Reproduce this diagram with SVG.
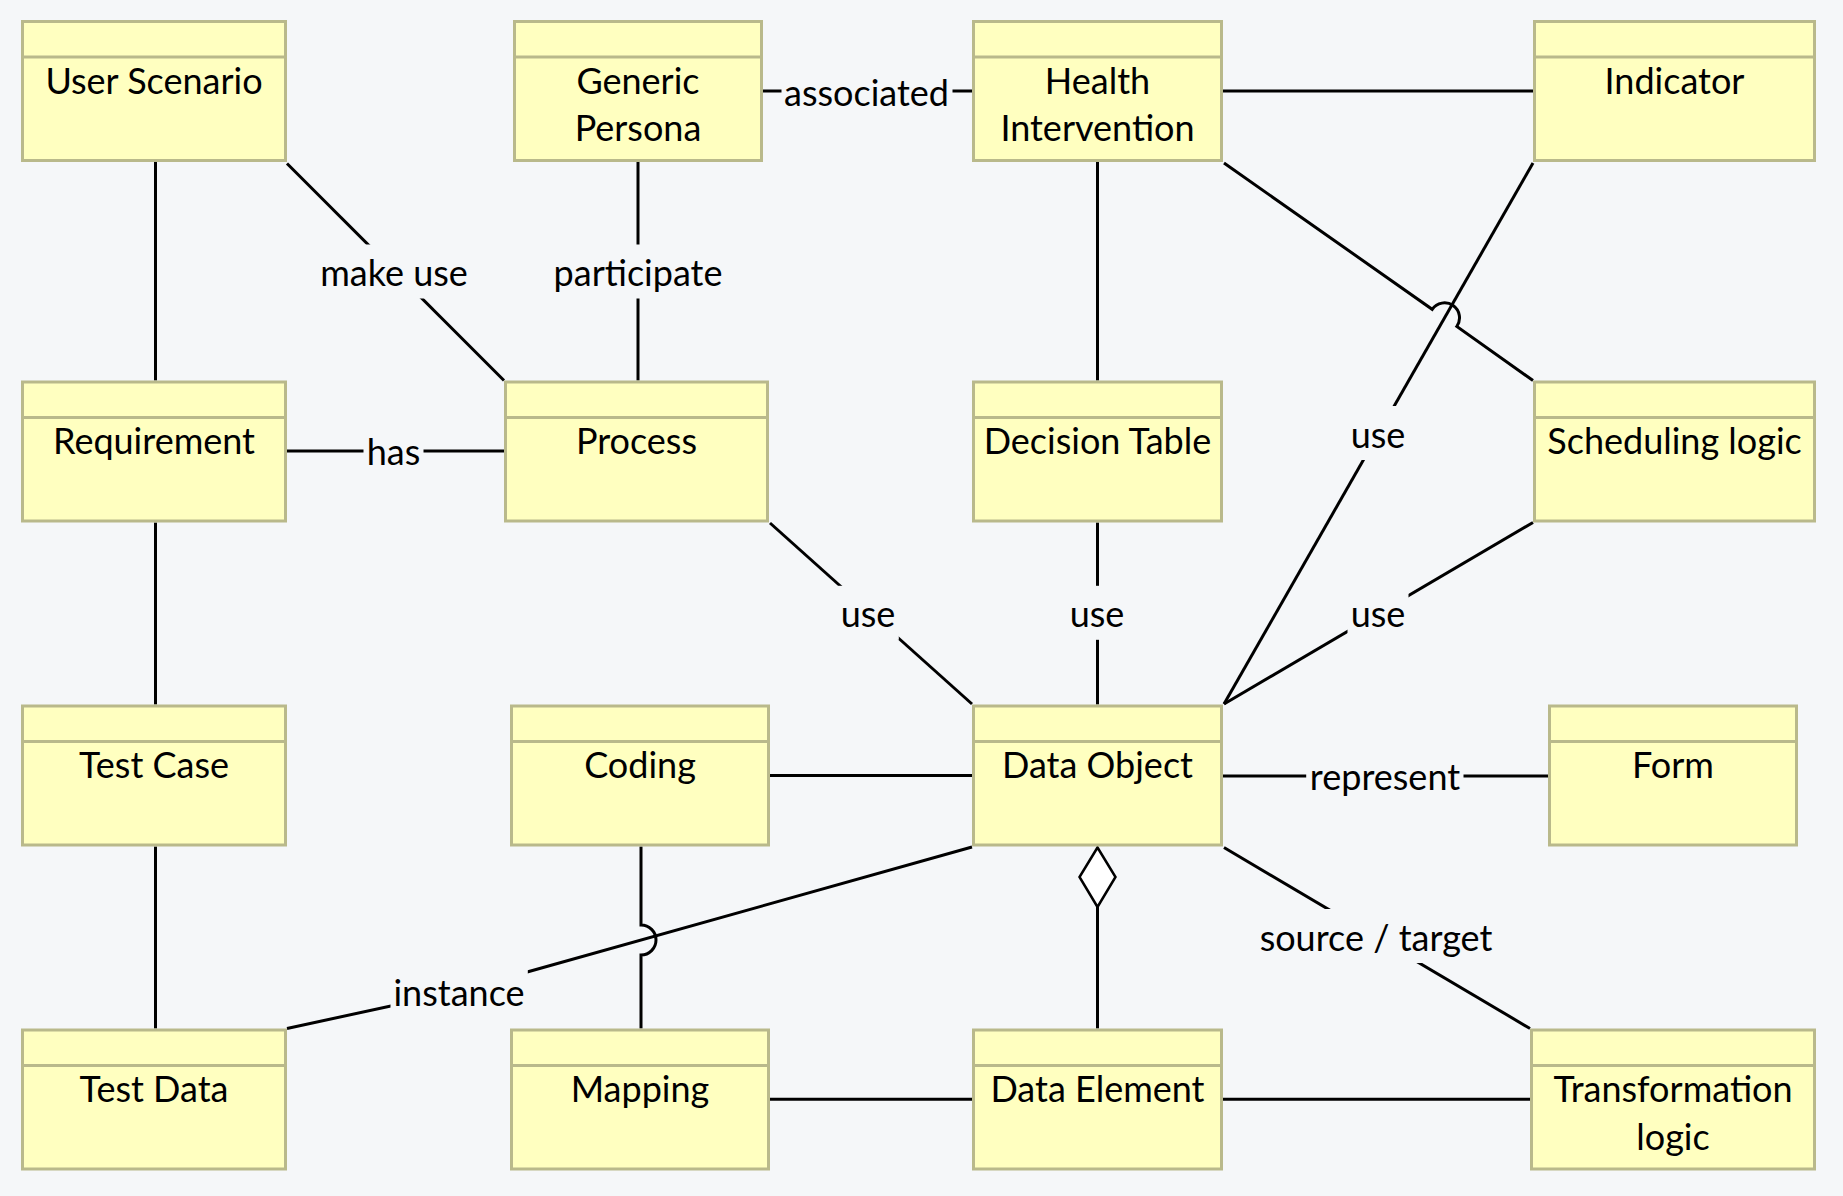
<svg xmlns="http://www.w3.org/2000/svg" width="1843" height="1196" viewBox="0 0 1843 1196">
<style>
.box{fill:#ffffc0;stroke:#b9b98b;stroke-width:3}
.hdr{stroke:#b9b98b;stroke-width:3}
.t{font-family:Lato,"Liberation Sans",sans-serif;font-size:36px;fill:#000;text-anchor:middle}
.c{fill:none;stroke:#000;stroke-width:3}
.m{fill:#f5f7f9;stroke:none}
.dia{fill:#fff;stroke:#000;stroke-width:2.5}
</style>
<rect x="0" y="0" width="1843" height="1196" fill="#f5f7f9"/>

<g id="connectors">
  <g id="c-userscenario-requirement"><path class="c" d="M155.5,162 V380.5"/></g>
  <g id="c-userscenario-process"><path class="c" d="M287,163.5 L504,380.5"/><rect class="m" x="315.5" y="244.5" width="157" height="54"/><text class="t" x="394" y="286">make use</text></g>
  <g id="c-persona-process"><path class="c" d="M638,162 V380.5"/><rect class="m" x="550.5" y="244.5" width="175" height="54"/><text class="t" x="638" y="286">participate</text></g>
  <g id="c-persona-health"><path class="c" d="M763,91 H972"/><rect class="m" x="781.5" y="64.5" width="171" height="54"/><text class="t" x="866.5" y="106">associated</text></g>
  <g id="c-health-indicator"><path class="c" d="M1223,91 H1533"/></g>
  <g id="c-health-decision"><path class="c" d="M1097.5,162 V380.5"/></g>
  <g id="c-indicator-dataobject"><path class="c" d="M1533,163 L1224,704"/><rect class="m" x="1347.5" y="406" width="61" height="54"/><text class="t" x="1378" y="447.6">use</text></g>
  <g id="c-health-scheduling"><path class="c" d="M1224,163 L1432.2,309.3 A15 15 0 0 1 1456.8,326.5 L1533,380.5"/></g>
  <g id="c-requirement-process"><path class="c" d="M287,451 H504"/><rect class="m" x="363.5" y="423.5" width="60" height="54"/><text class="t" x="393.5" y="465">has</text></g>
  <g id="c-requirement-testcase"><path class="c" d="M155.5,522.5 V704.5"/></g>
  <g id="c-process-dataobject"><path class="c" d="M770,523 L972,704"/><rect class="m" x="837.5" y="585.8" width="61.3" height="54"/><text class="t" x="868" y="627.3">use</text></g>
  <g id="c-decision-dataobject"><path class="c" d="M1097.5,522.5 V704.5"/><rect class="m" x="1066.5" y="585.8" width="61" height="54"/><text class="t" x="1097" y="627.3">use</text></g>
  <g id="c-scheduling-dataobject"><path class="c" d="M1533,522.5 L1224,704"/><rect class="m" x="1347.5" y="585.8" width="61" height="54"/><text class="t" x="1378" y="627.3">use</text></g>
  <g id="c-coding-dataobject"><path class="c" d="M770,775.5 H972"/></g>
  <g id="c-dataobject-form"><path class="c" d="M1223,776 H1548"/><rect class="m" x="1306.2" y="748" width="157.3" height="54"/><text class="t" x="1385" y="789.5">represent</text></g>
  <g id="c-testcase-testdata"><path class="c" d="M155.5,846.5 V1028.5"/></g>
  <g id="c-dataobject-testdata"><path class="c" d="M287,1028.5 L459,991.2 L972,847"/><rect class="m" x="390.5" y="964.2" width="137.3" height="54"/><text class="t" x="459" y="1005.7">instance</text></g>
  <g id="c-coding-mapping"><path class="c" d="M641,846.5 V925 A15 15 0 0 1 641,955 V1028.5"/></g>
  <g id="c-dataobject-dataelement"><polygon class="dia" points="1097.5,847.5 1115.5,877 1097.5,907 1079.5,877"/><path class="c" d="M1097.5,907 V1028.5"/></g>
  <g id="c-dataobject-transformation"><path class="c" d="M1224,847.5 L1530,1028.5"/><rect class="m" x="1255" y="909" width="242" height="54"/><text class="t" x="1376" y="950.6">source / target</text></g>
  <g id="c-mapping-dataelement"><path class="c" d="M770,1099.3 H972"/></g>
  <g id="c-dataelement-transformation"><path class="c" d="M1223,1099.3 H1530"/></g>
</g>

<g id="nodes">
  <g id="n-user-scenario"><rect class="box" x="22.5" y="21.5" width="263" height="139"/><line class="hdr" x1="22.5" y1="57" x2="285.5" y2="57"/><text class="t" x="154" y="93.7">User Scenario</text></g>
  <g id="n-generic-persona"><rect class="box" x="514.5" y="21.5" width="247" height="139"/><line class="hdr" x1="514.5" y1="57" x2="761.5" y2="57"/><text class="t" x="638" y="93.7">Generic</text><text class="t" x="638" y="141.2">Persona</text></g>
  <g id="n-health-intervention"><rect class="box" x="973.5" y="21.5" width="248" height="139"/><line class="hdr" x1="973.5" y1="57" x2="1221.5" y2="57"/><text class="t" x="1097.5" y="93.7">Health</text><text class="t" x="1097.5" y="141.2">Intervention</text></g>
  <g id="n-indicator"><rect class="box" x="1534.5" y="21.5" width="280" height="139"/><line class="hdr" x1="1534.5" y1="57" x2="1814.5" y2="57"/><text class="t" x="1674.5" y="93.7">Indicator</text></g>

  <g id="n-requirement"><rect class="box" x="22.5" y="382" width="263" height="139"/><line class="hdr" x1="22.5" y1="417.5" x2="285.5" y2="417.5"/><text class="t" x="154" y="454.2">Requirement</text></g>
  <g id="n-process"><rect class="box" x="505.5" y="382" width="262" height="139"/><line class="hdr" x1="505.5" y1="417.5" x2="767.5" y2="417.5"/><text class="t" x="636.5" y="454.2">Process</text></g>
  <g id="n-decision-table"><rect class="box" x="973.5" y="382" width="248" height="139"/><line class="hdr" x1="973.5" y1="417.5" x2="1221.5" y2="417.5"/><text class="t" x="1097.5" y="454.2">Decision Table</text></g>
  <g id="n-scheduling-logic"><rect class="box" x="1534.5" y="382" width="280" height="139"/><line class="hdr" x1="1534.5" y1="417.5" x2="1814.5" y2="417.5"/><text class="t" x="1674.5" y="454.2">Scheduling logic</text></g>

  <g id="n-test-case"><rect class="box" x="22.5" y="706" width="263" height="139"/><line class="hdr" x1="22.5" y1="741.5" x2="285.5" y2="741.5"/><text class="t" x="154" y="778.2">Test Case</text></g>
  <g id="n-coding"><rect class="box" x="511.5" y="706" width="257" height="139"/><line class="hdr" x1="511.5" y1="741.5" x2="768.5" y2="741.5"/><text class="t" x="640" y="778.2">Coding</text></g>
  <g id="n-data-object"><rect class="box" x="973.5" y="706" width="248" height="139"/><line class="hdr" x1="973.5" y1="741.5" x2="1221.5" y2="741.5"/><text class="t" x="1097.5" y="778.2">Data Object</text></g>
  <g id="n-form"><rect class="box" x="1549.5" y="706" width="247" height="139"/><line class="hdr" x1="1549.5" y1="741.5" x2="1796.5" y2="741.5"/><text class="t" x="1673" y="778.2">Form</text></g>

  <g id="n-test-data"><rect class="box" x="22.5" y="1030" width="263" height="139"/><line class="hdr" x1="22.5" y1="1065.5" x2="285.5" y2="1065.5"/><text class="t" x="154" y="1102.2">Test Data</text></g>
  <g id="n-mapping"><rect class="box" x="511.5" y="1030" width="257" height="139"/><line class="hdr" x1="511.5" y1="1065.5" x2="768.5" y2="1065.5"/><text class="t" x="640" y="1102.2">Mapping</text></g>
  <g id="n-data-element"><rect class="box" x="973.5" y="1030" width="248" height="139"/><line class="hdr" x1="973.5" y1="1065.5" x2="1221.5" y2="1065.5"/><text class="t" x="1097.5" y="1102.2">Data Element</text></g>
  <g id="n-transformation-logic"><rect class="box" x="1531.5" y="1030" width="283" height="139"/><line class="hdr" x1="1531.5" y1="1065.5" x2="1814.5" y2="1065.5"/><text class="t" x="1673" y="1102.2">Transformation</text><text class="t" x="1673" y="1149.7">logic</text></g>
</g>
</svg>
